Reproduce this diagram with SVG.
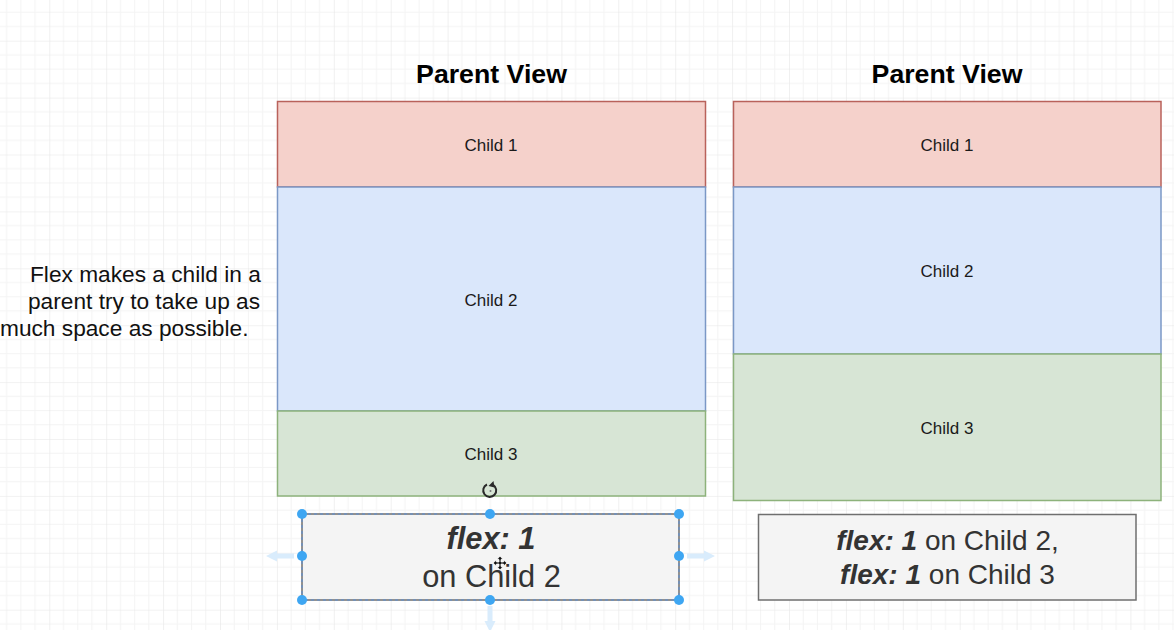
<svg xmlns="http://www.w3.org/2000/svg" width="1174" height="630" viewBox="0 0 1174 630">
<defs>
<pattern id="grid" patternUnits="userSpaceOnUse" x="-7.6" y="-16.2" width="56.9" height="56.9">
<path d="M14.225 0V56.9M28.45 0V56.9M42.675 0V56.9M0 14.225H56.9M0 28.45H56.9M0 42.675H56.9" stroke="#f4f4f4" stroke-width="1" fill="none"/>
<path d="M0 0V56.9M0 0H56.9" stroke="#e6e6e6" stroke-width="1.2" fill="none"/>
</pattern>
</defs>
<style>
.t{font-family:"Liberation Sans",Arial,sans-serif}
.title{font-size:26.7px;font-weight:bold;fill:#000;text-anchor:middle}
.lbl{font-size:17px;fill:#1a1a1a;text-anchor:middle}
.c1{fill:#f5d1cb;stroke:#b9625b;stroke-width:1.5}
.c2{fill:#dae7fb;stroke:#7b98c6;stroke-width:1.5}
.c3{fill:#d7e5d5;stroke:#8db27b;stroke-width:1.5}
.note{fill:#f4f4f4;stroke:#6f6f6f;stroke-width:1.5}
.nt{fill:#333;text-anchor:middle}
.b{font-weight:bold;font-style:italic}
.side{font-size:22.7px;fill:#111}
.h{fill:#3ea6f2}
.fa{fill:#d9ecfc}
</style>
<rect width="1174" height="630" fill="#ffffff"/>
<rect width="1174" height="630" fill="url(#grid)"/>

<g id="side-text" class="t side">
<text x="30" y="281.5">Flex makes a child in a</text>
<text x="28" y="308.5">parent try to take up as</text>
<text x="0" y="335.5">much space as possible.</text>
</g>

<g id="parent-left">
<text class="t title" x="491.5" y="83">Parent View</text>
<g id="left-child1"><rect class="c1" x="277.5" y="101.5" width="428" height="85.5"/><text class="t lbl" x="491" y="151">Child 1</text></g>
<g id="left-child2"><rect class="c2" x="277.5" y="187" width="428" height="224"/><text class="t lbl" x="491" y="306">Child 2</text></g>
<g id="left-child3"><rect class="c3" x="277.5" y="411" width="428" height="85"/><text class="t lbl" x="491" y="460">Child 3</text></g>
</g>

<g id="parent-right">
<text class="t title" x="947" y="83">Parent View</text>
<g id="right-child1"><rect class="c1" x="733.5" y="101.5" width="427.5" height="85.5"/><text class="t lbl" x="947" y="151">Child 1</text></g>
<g id="right-child2"><rect class="c2" x="733.5" y="187" width="427.5" height="167"/><text class="t lbl" x="947" y="277">Child 2</text></g>
<g id="right-child3"><rect class="c3" x="733.5" y="354" width="427.5" height="146.5"/><text class="t lbl" x="947" y="434">Child 3</text></g>
</g>

<g id="note-left">
<rect class="note" x="302" y="514" width="377" height="86"/>
<text class="t nt" x="491" y="549" font-size="30.8"><tspan class="b">flex: 1</tspan></text>
<text class="t nt" x="491.5" y="587" font-size="30.8">on Child 2</text>
</g>

<g id="note-right">
<rect class="note" x="758.5" y="514.5" width="377.5" height="85.5"/>
<text class="t nt" x="947.5" y="550" font-size="28"><tspan class="b">flex: 1</tspan> on Child 2,</text>
<text class="t nt" x="947.5" y="584" font-size="28"><tspan class="b">flex: 1</tspan> on Child 3</text>
</g>

<g id="selection">
<path class="fa" d="M266 556L277 550.5V553.5H294V558.5H277V561.5Z"/>
<path class="fa" d="M715 556L704 550.5V553.5H687V558.5H704V561.5Z"/>
<path class="fa" d="M490 632L484.5 621H487.5V606H492.5V621H495.5Z"/>
<rect x="302" y="514" width="377" height="86" fill="none" stroke="#5b8fd6" stroke-width="1" stroke-dasharray="3 3"/>
<circle class="h" cx="302" cy="514" r="5"/><circle class="h" cx="490" cy="514" r="5"/><circle class="h" cx="679" cy="514" r="5"/>
<circle class="h" cx="302" cy="556" r="5"/><circle class="h" cx="679" cy="556" r="5"/>
<circle class="h" cx="302" cy="600" r="5"/><circle class="h" cx="490" cy="600" r="5"/><circle class="h" cx="679" cy="600" r="5"/>
<path d="M487 484.5A6.5 6.5 0 1 0 493 484.8" fill="none" stroke="#2a2a2a" stroke-width="2"/>
<path d="M493.5 481L494.5 487.5L488.5 486Z" fill="#2a2a2a"/>
<circle cx="490.5" cy="491" r="1" fill="#777"/>
<path d="M500 556L503 559.5H501V562H503.5V560L507 563L503.5 566V564H501V566.5H503L500 570L497 566.5H499V564H496.5V566L493 563L496.5 560V562H499V559.5H497Z" fill="#111" stroke="#fff" stroke-width="0.8"/>
</g>
</svg>
